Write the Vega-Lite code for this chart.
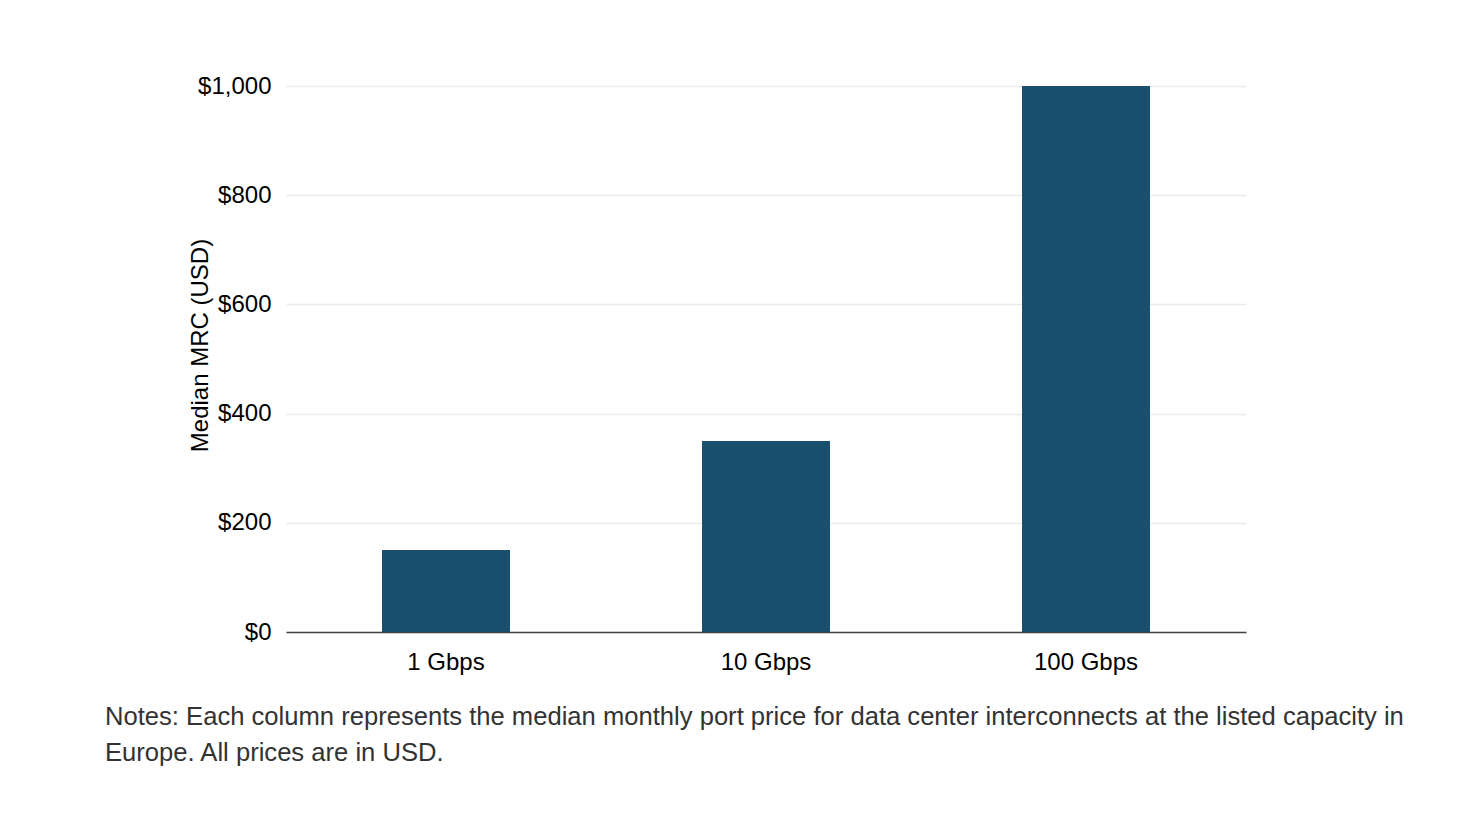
{
  "$schema": "https://vega.github.io/schema/vega-lite/v6.json",
  "autosize": {"type": "none"},
  "padding": {"left": 286, "top": 86, "right": 236, "bottom": 182},
  "width": 960,
  "height": 546,
  "background": "white",
  "title": {
    "text": [
      "Notes: Each column represents the median monthly port price for data center interconnects at the listed capacity in",
      "Europe. All prices are in USD."
    ],
    "orient": "bottom",
    "anchor": "start",
    "frame": "group",
    "dx": -181,
    "offset": 31,
    "font": "Liberation Sans",
    "fontSize": 25.6,
    "fontWeight": "normal",
    "color": "#333333",
    "lineHeight": 36,
    "baseline": "top"
  },
  "data": {
    "values": [
      {"capacity": "1 Gbps", "mrc": 150},
      {"capacity": "10 Gbps", "mrc": 350},
      {"capacity": "100 Gbps", "mrc": 1000}
    ]
  },
  "mark": {"type": "bar", "color": "#1a4f6d"},
  "encoding": {
    "x": {
      "field": "capacity",
      "type": "nominal",
      "sort": null,
      "scale": {"paddingInner": 0.6, "paddingOuter": 0.3},
      "axis": {
        "title": null,
        "labelAngle": 0,
        "ticks": false,
        "labelPadding": 18,
        "domainColor": "#444444",
        "domainWidth": 1.5
      }
    },
    "y": {
      "field": "mrc",
      "type": "quantitative",
      "scale": {"domain": [0, 1000]},
      "axis": {
        "title": "Median MRC (USD)",
        "titleX": -86,
        "titleY": 259,
        "titleAngle": -90,
        "titleAlign": "center",
        "titleBaseline": "middle",
        "titleFontSize": 24,
        "titleFontWeight": "normal",
        "titleColor": "#000000",
        "values": [0, 200, 400, 600, 800, 1000],
        "format": "$,.0f",
        "domain": false,
        "ticks": false,
        "labelPadding": 15,
        "gridColor": "#ebebeb",
        "gridWidth": 1.5
      }
    }
  },
  "config": {
    "view": {"stroke": null},
    "axis": {
      "labelFont": "Liberation Sans",
      "titleFont": "Liberation Sans",
      "labelFontSize": 24,
      "labelColor": "#000000"
    }
  }
}
